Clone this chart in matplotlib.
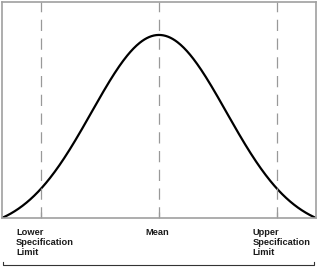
import numpy as np
import matplotlib
matplotlib.use("Agg")
import matplotlib.pyplot as plt
import matplotlib.transforms as mtransforms

# process values in units of sigma
mean = 0.0
sigma = 1.0
lsl = -1.75
usl = 1.75
x_min, x_max = -2.33, 2.33

marks = [lsl, mean, usl]
labels = ["Lower\nSpecification\nLimit", "Mean", "Upper\nSpecification\nLimit"]

# bell curve, shifted so it sits on the baseline at the edges
x = np.linspace(x_min, x_max, 400)
pdf = np.exp(-0.5 * ((x - mean) / sigma) ** 2)
edge = np.exp(-0.5 * ((x_max - mean) / sigma) ** 2)
y = pdf - edge

fig = plt.figure(figsize=(3.2, 2.7), dpi=100)
ax = fig.add_axes([2 / 320, 52 / 270, 314 / 320, 216 / 270])

ax.plot(x, y, color="black", lw=1.6, solid_capstyle="round")
for m in marks:
    ax.axvline(m, color="#999999", lw=0.9, dashes=(9, 6))

ax.set_xlim(x_min, x_max)
ax.set_ylim(0, y.max() * 1.18)
ax.set_xticks(marks)
ax.set_xticklabels([])
ax.set_yticks([])
ax.tick_params(axis="x", direction="in", length=4, color="#999999", width=0.9)
for s in ax.spines.values():
    s.set_color("#a0a0a0")
    s.set_linewidth(1.2)

trans = mtransforms.blended_transform_factory(ax.transData, fig.transFigure)
txt = dict(transform=trans, va="top", fontsize=6.7, fontweight="bold",
           family=["Liberation Sans", "DejaVu Sans"], color="#1a1a1a", linespacing=1.13)
ax.text(lsl - 0.37, 1 - 228 / 270, labels[0], ha="left", **txt)
ax.text(mean - 0.02, 1 - 228 / 270, labels[1], ha="center", **txt)
ax.text(usl - 0.36, 1 - 228 / 270, labels[2], ha="left", **txt)

# bracket under the labels
by = 1 - 265 / 270
bt = 3 / 270
fig.add_artist(plt.Line2D([3 / 320, 3 / 320, 314 / 320, 314 / 320],
                          [by + bt, by, by, by + bt],
                          transform=fig.transFigure, color="#333333", lw=0.8))

fig.savefig("out.png", dpi=100)
